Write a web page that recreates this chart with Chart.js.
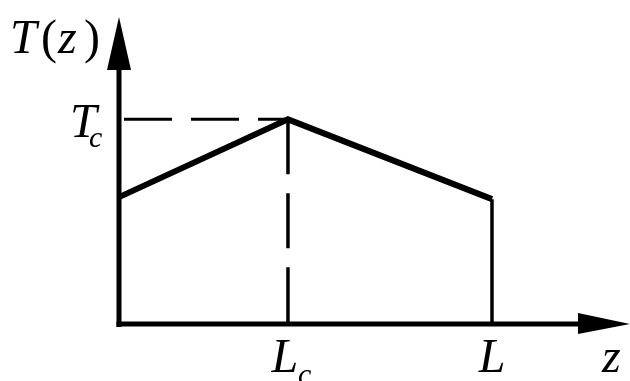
<!DOCTYPE html>
<html>
<head>
<meta charset="utf-8">
<script src="https://cdn.jsdelivr.net/npm/chart.js@4/dist/chart.umd.min.js"></script>
<style>
    html, body { margin: 0; padding: 0; background: #fff; }
    canvas { display: block; }
</style>
</head>
<body>
<canvas id="profileChart" width="630" height="381"></canvas>
<script>
// positions along z (0, L_c, L) and temperature at those points
const zPoints = [0, 4.53, 10];
const tValues = [6.2, 10, 6.1];
const tcValue = 10;
const zMax = 13.7;
const tMax = 15;

// tick labels: main letter + subscript
const zTickLabels = ['', 'L', 'L'];
const zTickSubs = ['', 'c', ''];
const tTickLabel = 'T';
const tTickSub = 'c';
const yTitle = ['T', '(', 'z', ')'];
const xTitle = 'z';

const serif = '"Liberation Serif", "DejaVu Serif", serif';

const axesPlugin = {
    id: 'axesPlugin',
    afterDatasetsDraw(chart) {
        const ctx = chart.ctx;
        const xs = chart.scales.x;
        const ys = chart.scales.y;
        const x0 = xs.getPixelForValue(0);
        const y0 = ys.getPixelForValue(0);
        const top = chart.chartArea.top;
        const right = chart.chartArea.right;

        ctx.save();
        ctx.fillStyle = '#000';
        ctx.strokeStyle = '#000';

        // y axis + arrow
        ctx.lineWidth = 5;
        ctx.beginPath();
        ctx.moveTo(x0, y0 + 3);
        ctx.lineTo(x0, top + 50);
        ctx.stroke();
        ctx.beginPath();
        ctx.moveTo(x0, top);
        ctx.lineTo(x0 + 12, top + 53);
        ctx.lineTo(x0 - 12, top + 53);
        ctx.closePath();
        ctx.fill();

        // x axis + arrow
        ctx.beginPath();
        ctx.moveTo(x0 - 2.5, y0);
        ctx.lineTo(right - 50, y0);
        ctx.stroke();
        ctx.beginPath();
        ctx.moveTo(right, y0);
        ctx.lineTo(right - 52, y0 - 11);
        ctx.lineTo(right - 52, y0 + 10);
        ctx.closePath();
        ctx.fill();

        // y title T(z)
        ctx.textBaseline = 'alphabetic';
        ctx.textAlign = 'left';
        const titleX = [10, 41, 58, 84];
        yTitle.forEach((s, i) => {
            ctx.font = (s === '(' || s === ')' ? '' : 'italic ') + '48px ' + serif;
            ctx.fillText(s, titleX[i], 53);
        });

        // T_c label
        const tcY = ys.getPixelForValue(tcValue);
        ctx.font = 'italic 48px ' + serif;
        ctx.fillText(tTickLabel, 70, tcY + 18);
        ctx.font = 'italic 30px ' + serif;
        ctx.fillText(tTickSub, 89, tcY + 28);

        // z tick labels
        zPoints.forEach((z, i) => {
            if (!zTickLabels[i]) return;
            const px = xs.getPixelForValue(z);
            const shift = zTickSubs[i] ? -3 : 0;
            ctx.font = 'italic 48px ' + serif;
            ctx.textAlign = 'center';
            ctx.fillText(zTickLabels[i], px + shift, 372);
            if (zTickSubs[i]) {
                ctx.font = 'italic 30px ' + serif;
                ctx.textAlign = 'left';
                ctx.fillText(zTickSubs[i], px + 10, 384);
            }
        });

        // x title
        ctx.font = 'italic 48px ' + serif;
        ctx.textAlign = 'left';
        ctx.fillText(xTitle, 602, 372);
        ctx.restore();
    }
};

const profileData = zPoints.map((z, i) => ({ x: z, y: tValues[i] }));
const lastZ = zPoints[zPoints.length - 1];
const lastT = tValues[tValues.length - 1];

new Chart(document.getElementById('profileChart').getContext('2d'), {
    type: 'scatter',
    data: {
        datasets: [{
            data: profileData,
            showLine: true,
            borderColor: '#000',
            borderWidth: 6,
            borderJoinStyle: 'miter',
            borderCapStyle: 'butt',
            pointRadius: 0,
            clip: false
        }, {
            data: [{ x: lastZ, y: lastT }, { x: lastZ, y: 0 }],
            showLine: true,
            borderColor: '#000',
            borderWidth: 3.5,
            pointRadius: 0,
            clip: false
        }, {
            data: [{ x: 0, y: tcValue }, { x: zPoints[1], y: tcValue }],
            showLine: true,
            borderColor: '#000',
            borderWidth: 3,
            borderDash: [48, 19],
            borderDashOffset: 62,
            pointRadius: 0,
            clip: false
        }, {
            data: [{ x: zPoints[1], y: tcValue }, { x: zPoints[1], y: 0 }],
            showLine: true,
            borderColor: '#000',
            borderWidth: 3.5,
            borderDash: [55, 19],
            pointRadius: 0,
            clip: false
        }]
    },
    options: {
        responsive: false,
        animation: false,
        devicePixelRatio: 1,
        layout: { padding: { left: 119, right: 0, top: 17, bottom: 57 } },
        plugins: {
            legend: { display: false },
            tooltip: { enabled: false }
        },
        scales: {
            x: { type: 'linear', min: 0, max: zMax, display: false },
            y: { min: 0, max: tMax, display: false }
        }
    },
    plugins: [axesPlugin]
});
</script>
</body>
</html>
